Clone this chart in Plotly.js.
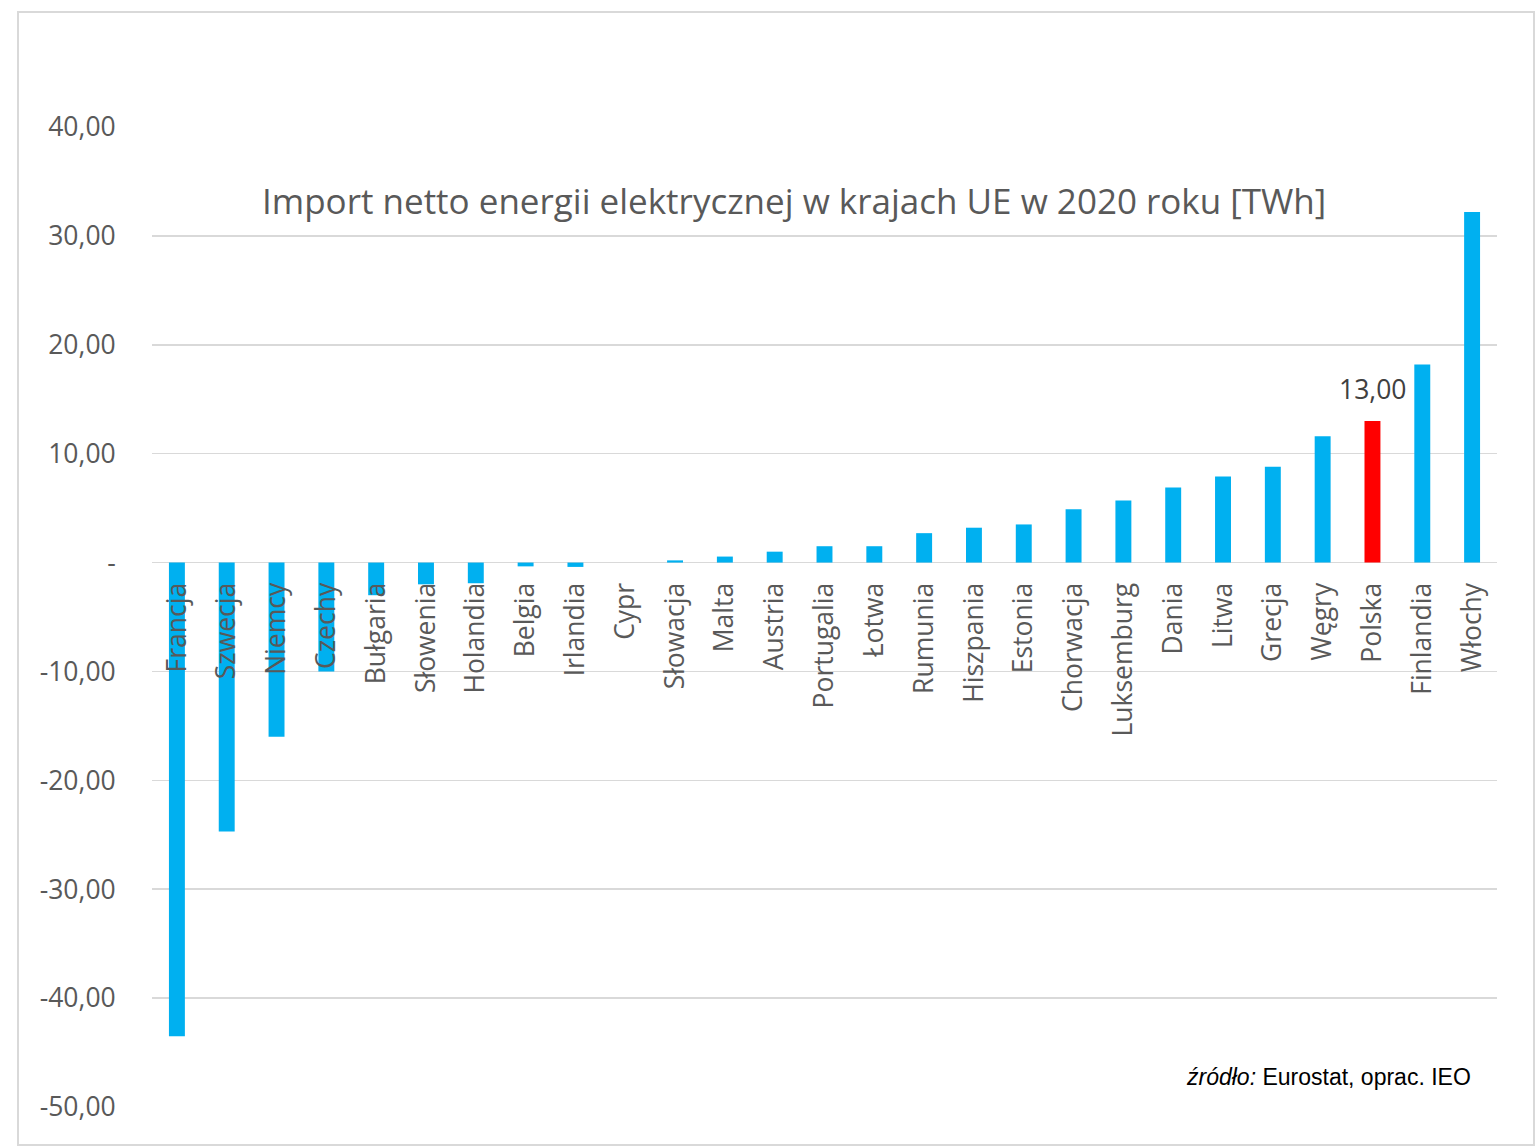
<!DOCTYPE html>
<html>
<head>
<meta charset="utf-8">
<script src="https://cdn.plot.ly/plotly-3.0.1.min.js"></script>
<style>html,body{margin:0;padding:0;background:#fff;}#chart{width:1537px;height:1147px;}</style>
</head>
<body>
<div id="chart"></div>
<script>
const countries = ["Francja","Szwecja","Niemcy","Czechy","Bułgaria","Słowenia","Holandia","Belgia","Irlandia","Cypr","Słowacja","Malta","Austria","Portugalia","Łotwa","Rumunia","Hiszpania","Estonia","Chorwacja","Luksemburg","Dania","Litwa","Grecja","Węgry","Polska","Finlandia","Włochy"];
const netImport = [-43.5,-24.7,-16.0,-10.0,-3.0,-2.0,-1.9,-0.35,-0.4,0,0.2,0.55,1.0,1.5,1.5,2.7,3.2,3.5,4.9,5.7,6.9,7.9,8.8,11.6,13.0,18.2,32.2];
const yTickVals = [40,30,20,10,0,-10,-20,-30,-40,-50];
const yTickText = ["40,00","30,00","20,00","10,00","-","-10,00","-20,00","-30,00","-40,00","-50,00"];
const highlight = "Polska";
const highlightLabel = "13,00";

const colors = countries.map(c => c === highlight ? "#FF0000" : "#00B0F0");
const yMin = -50, yMax = 40;
const zeroPos = (0 - yMin) / (yMax - yMin);

const trace = {
  type: "bar",
  x: countries,
  y: netImport,
  marker: {color: colors},
  hoverinfo: "x+y"
};

const hi = countries.indexOf(highlight);

const layout = {
  width: 1537, height: 1147,
  margin: {l: 152, r: 40, t: 127, b: 40},
  paper_bgcolor: "#ffffff",
  plot_bgcolor: "#ffffff",
  showlegend: false,
  bargap: 0.68,
  font: {family: "Open Sans, sans-serif", color: "#595959"},
  xaxis: {
    type: "category",
    anchor: "free",
    position: zeroPos,
    tickangle: -90,
    ticks: "",
    ticklabelstandoff: 14,
    showgrid: false,
    showline: false,
    zeroline: false,
    tickfont: {size: 26.5, color: "#595959", family: "Open Sans, sans-serif"},
    fixedrange: true
  },
  yaxis: {
    range: [yMin, yMax],
    tickvals: yTickVals,
    ticktext: yTickText,
    ticks: "outside",
    ticklen: 30,
    tickcolor: "rgba(0,0,0,0)",
    showgrid: true,
    gridcolor: "#d9d9d9",
    gridwidth: 1.5,
    zeroline: true,
    zerolinecolor: "#d9d9d9",
    zerolinewidth: 1.5,
    showline: false,
    tickfont: {size: 26.5, color: "#595959", family: "Open Sans, sans-serif"},
    fixedrange: true
  },
  annotations: [
    {
      text: "Import netto energii elektrycznej w krajach UE w 2020 roku [TWh]",
      xref: "paper", yref: "paper",
      x: (794 - 152) / 1345, y: (1107 - 200) / 980,
      xanchor: "center", yanchor: "middle",
      showarrow: false,
      font: {size: 35, color: "#595959", family: "Open Sans, sans-serif"}
    },
    {
      text: highlightLabel,
      xref: "x", yref: "y",
      x: countries[hi], y: netImport[hi],
      yanchor: "bottom",
      yshift: 12,
      showarrow: false,
      font: {size: 26.5, color: "#404040", family: "Open Sans, sans-serif"}
    },
    {
      text: "<i>źródło:</i> Eurostat, oprac. IEO",
      xref: "paper", yref: "paper",
      x: (1473 - 152) / 1345, y: (1107 - 1077) / 980,
      xanchor: "right", yanchor: "middle",
      showarrow: false,
      font: {size: 23, color: "#000000", family: "Liberation Sans, Arial, sans-serif"}
    }
  ],
  shapes: [
    {
      type: "rect", xref: "paper", yref: "paper",
      x0: (18 - 152) / 1345, x1: (1534 - 152) / 1345,
      y0: (1107 - 1145) / 980, y1: (1107 - 12) / 980,
      line: {color: "#d9d9d9", width: 2},
      fillcolor: "rgba(0,0,0,0)",
      layer: "below"
    }
  ]
};

Plotly.newPlot("chart", [trace], layout, {staticPlot: true, displayModeBar: false});
</script>
</body>
</html>
